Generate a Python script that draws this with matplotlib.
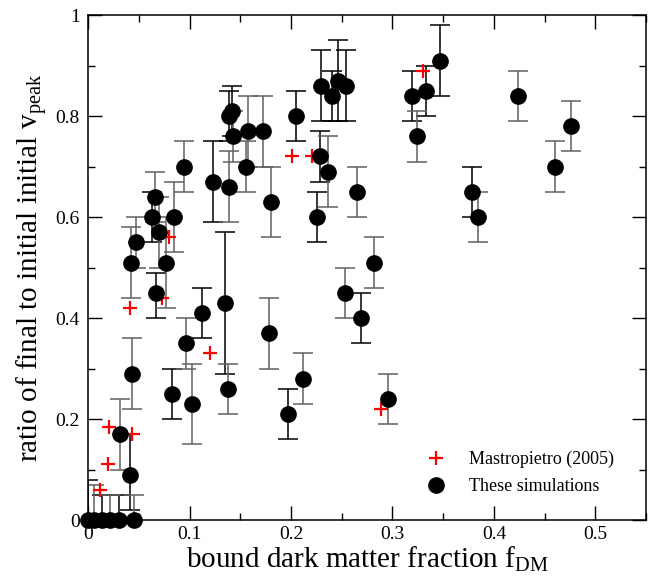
import numpy as np
import matplotlib
matplotlib.use('Agg')
import matplotlib.pyplot as plt
from matplotlib.ticker import MultipleLocator, FuncFormatter

plt.rcParams['font.family'] = ['Liberation Serif', 'DejaVu Serif']
plt.rcParams['mathtext.fontset'] = 'custom'
plt.rcParams['mathtext.rm'] = 'Liberation Serif'

# Mastropietro (2005) points
mast_x = [0.012, 0.020, 0.021, 0.043, 0.041, 0.073, 0.080, 0.120, 0.201, 0.221, 0.330, 0.289]
mast_y = [0.06, 0.11, 0.185, 0.17, 0.42, 0.44, 0.56, 0.33, 0.72, 0.72, 0.89, 0.22]

# simulations, set 1 (black error bars)
sim1_x = [0.000, 0.014, 0.030, 0.041, 0.063, 0.067, 0.083, 0.112, 0.123, 0.135,
          0.139, 0.142, 0.197, 0.205, 0.226, 0.229, 0.230, 0.240, 0.246, 0.254,
          0.269, 0.319, 0.333, 0.347, 0.378]
sim1_y = [0.00, 0.00, 0.00, 0.09, 0.60, 0.45, 0.25, 0.41, 0.67, 0.43,
          0.80, 0.81, 0.21, 0.80, 0.60, 0.72, 0.86, 0.84, 0.87, 0.86,
          0.40, 0.84, 0.85, 0.91, 0.65]
sim1_lo = [0.08, 0.05, 0.05, 0.07, 0.05, 0.05, 0.05, 0.05, 0.08, 0.14,
           0.05, 0.05, 0.05, 0.05, 0.05, 0.05, 0.07, 0.05, 0.08, 0.07,
           0.05, 0.05, 0.05, 0.07, 0.05]
sim1_hi = [0.08, 0.05, 0.05, 0.08, 0.05, 0.04, 0.05, 0.05, 0.08, 0.14,
           0.05, 0.05, 0.05, 0.05, 0.05, 0.05, 0.07, 0.05, 0.08, 0.07,
           0.05, 0.05, 0.05, 0.07, 0.05]

# simulations, set 2 (grey error bars)
sim2_x = [0.006, 0.022, 0.045, 0.031, 0.043, 0.042, 0.047, 0.066, 0.070, 0.077,
          0.085, 0.095, 0.096, 0.102, 0.138, 0.139, 0.143, 0.156, 0.158, 0.172,
          0.178, 0.180, 0.212, 0.236, 0.253, 0.265, 0.282, 0.296, 0.324, 0.384,
          0.424, 0.460, 0.476]
sim2_y = [0.00, 0.00, 0.00, 0.17, 0.29, 0.51, 0.55, 0.64, 0.57, 0.51,
          0.60, 0.70, 0.35, 0.23, 0.26, 0.66, 0.76, 0.70, 0.77, 0.77,
          0.37, 0.63, 0.28, 0.69, 0.45, 0.65, 0.51, 0.24, 0.76, 0.60,
          0.84, 0.70, 0.78]
sim2_lo = [0.07, 0.05, 0.05, 0.07, 0.07, 0.07, 0.05, 0.05, 0.07, 0.09,
           0.07, 0.05, 0.05, 0.08, 0.05, 0.07, 0.05, 0.05, 0.07, 0.07,
           0.07, 0.07, 0.05, 0.07, 0.05, 0.05, 0.05, 0.05, 0.05, 0.05,
           0.05, 0.05, 0.05]
sim2_hi = [0.07, 0.05, 0.05, 0.07, 0.07, 0.07, 0.05, 0.05, 0.07, 0.09,
           0.07, 0.05, 0.05, 0.08, 0.05, 0.07, 0.05, 0.05, 0.07, 0.07,
           0.07, 0.07, 0.05, 0.07, 0.05, 0.05, 0.05, 0.05, 0.05, 0.05,
           0.05, 0.05, 0.05]

fig = plt.figure(figsize=(6.48, 5.82), dpi=100)
ax = fig.add_axes([0.136, 0.1065, 0.861, 0.8675])

ax.errorbar(sim1_x, sim1_y, yerr=[sim1_lo, sim1_hi], fmt='none', ecolor='black',
            elinewidth=1.1, capsize=7, capthick=1.1, zorder=2)
ax.errorbar(sim2_x, sim2_y, yerr=[sim2_lo, sim2_hi], fmt='none', ecolor='#606060',
            elinewidth=1.1, capsize=7, capthick=1.1, zorder=2)

ax.plot(mast_x, mast_y, '+', color='red', markersize=10, markeredgewidth=1.6,
        label='Mastropietro (2005)', zorder=3, clip_on=False)
ax.plot(sim1_x + sim2_x, sim1_y + sim2_y, 'o', color='black', markersize=11,
        label='These simulations', zorder=4, clip_on=False)

ax.set_xlim(0, 0.55)
ax.set_ylim(0, 1)
ax.xaxis.set_major_locator(MultipleLocator(0.1))
ax.xaxis.set_minor_locator(MultipleLocator(0.05))
ax.yaxis.set_major_locator(MultipleLocator(0.2))
ax.yaxis.set_minor_locator(MultipleLocator(0.1))
fmt = FuncFormatter(lambda v, p: '%g' % round(v, 3))
ax.xaxis.set_major_formatter(fmt)
ax.yaxis.set_major_formatter(fmt)
ax.tick_params(which='both', direction='in', top=True, right=True, labelsize=14, width=1)
ax.tick_params(which='major', length=10, pad=6)
ax.tick_params(axis='x', which='major', pad=4)
ax.tick_params(which='minor', length=5)
for s in ax.spines.values():
    s.set_linewidth(1.1)

ax.set_xlabel(r'bound dark matter fraction f$_{\rm DM}$', fontsize=21, labelpad=1)
ax.set_ylabel(r'ratio of final to initial initial v$_{\rm peak}$', fontsize=21, labelpad=4)

ax.legend(loc='lower right', bbox_to_anchor=(0.955, 0.035), frameon=False, fontsize=13,
          handletextpad=0.8, labelspacing=0.55, borderaxespad=0)

fig.savefig('out.png', dpi=100)
